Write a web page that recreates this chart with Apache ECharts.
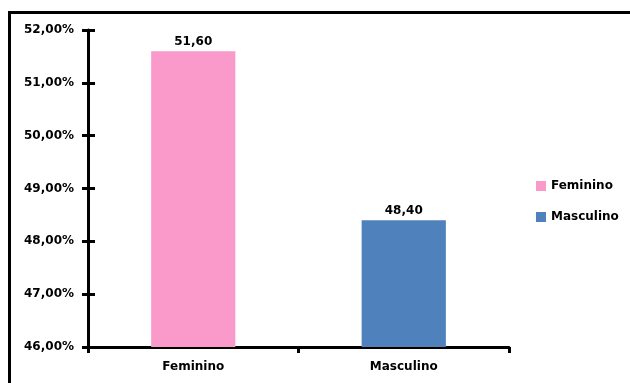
<!DOCTYPE html>
<html>
<head>
<meta charset="utf-8">
<script src="https://cdn.jsdelivr.net/npm/echarts@6/dist/echarts.min.js"></script>
<style>
  html, body { margin: 0; padding: 0; background: #fff; }
  #chart { width: 630px; height: 383px; }
</style>
</head>
<body>
<div id="chart"></div>
<script>
// Distribuição por sexo (%)
const categories = ['Feminino', 'Masculino'];
const shares = [51.60, 48.40];
const seriesColors = ['#F99ACB', '#4F81BD'];
const yMin = 46, yMax = 52, yStep = 1;

const FONT = 'DejaVu Sans';
const txt = { fontFamily: FONT, fontWeight: 'bold', fontSize: 12, color: '#000' };

const fmtComma = v => v.toFixed(2).replace('.', ',');

// one series per category so the legend lists both sexes; each bar sits in its own slot
const series = categories.map((name, i) => ({
  name: name,
  type: 'bar',
  barGap: '-100%',
  barWidth: '40%',
  yAxisIndex: 0,
  itemStyle: { color: seriesColors[i] },
  label: {
    show: true,
    position: 'top',
    distance: 3,
    ...txt,
    formatter: p => fmtComma(p.value)
  },
  data: categories.map((c, j) => (j === i ? shares[i] : '-'))
}));

const chart = echarts.init(document.getElementById('chart'), null, { renderer: 'canvas' });
chart.setOption({
  backgroundColor: '#fff',
  animation: false,
  textStyle: { fontFamily: FONT },
  grid: { left: 88, right: 121, top: 30, bottom: 36 },
  legend: {
    orient: 'vertical',
    left: 536,
    top: 180,
    padding: 0,
    itemWidth: 10,
    itemHeight: 10,
    itemGap: 19,
    icon: 'rect',
    textStyle: { ...txt },
    data: categories
  },
  xAxis: {
    type: 'category',
    data: categories,
    boundaryGap: true,
    axisLine: { lineStyle: { color: '#000', width: 3 } },
    axisTick: { show: true, alignWithLabel: false, length: 6, lineStyle: { color: '#000', width: 3 } },
    axisLabel: { ...txt, margin: 14 },
    splitLine: { show: false }
  },
  yAxis: [
    {
      type: 'value',
      min: yMin, max: yMax, interval: yStep,
      axisLine: { show: true, lineStyle: { color: '#000', width: 3 } },
      axisTick: { show: true, length: 6, lineStyle: { color: '#000', width: 3 } },
      axisLabel: { ...txt, margin: 14, formatter: v => fmtComma(v) + '%' },
      splitLine: { show: false }
    },
    {
      // inner half of the cross ticks on the value axis
      type: 'value',
      position: 'left',
      min: yMin, max: yMax, interval: yStep,
      axisLine: { show: false },
      axisTick: { show: true, inside: true, length: 7, lineStyle: { color: '#000', width: 3 } },
      axisLabel: { show: false },
      splitLine: { show: false }
    }
  ],
  graphic: [{
    type: 'rect',
    shape: { x: 9.5, y: 12.5, width: 700, height: 500 },
    style: { fill: 'none', stroke: '#000', lineWidth: 3 },
    silent: true,
    z: 100
  }],
  series: series
});
</script>
</body>
</html>
